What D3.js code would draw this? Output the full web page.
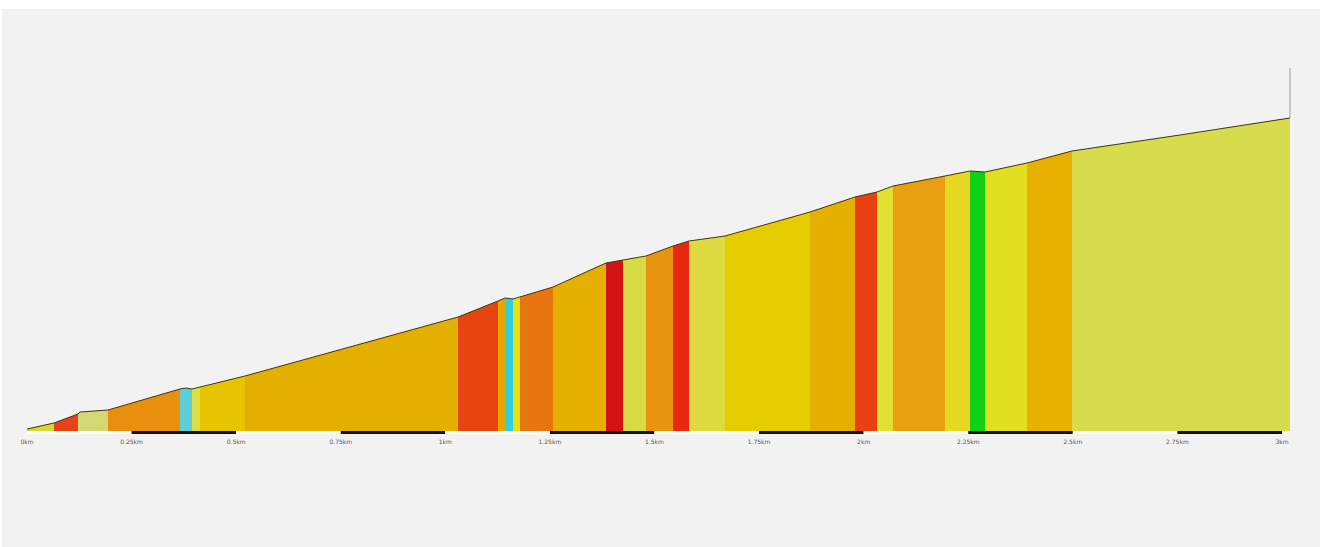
<!DOCTYPE html>
<html>
<head>
<meta charset="utf-8">
<script src="https://cdn.jsdelivr.net/npm/d3@7"></script>
<style>
  html, body { margin: 0; padding: 0; background: #ffffff; }
  svg { display: block; }
</style>
</head>
<body>
<svg id="chart" width="1320" height="547"></svg>
<script>
// profile: distance (km) and elevation (m above start baseline)
var distKm = [0, 0.0645, 0.1219, 0.1267, 0.1936, 0.3657, 0.3801, 0.3944, 0.5211, 1.0303, 1.1259, 1.1426,
              1.1618, 1.2574, 1.3841, 1.4247, 1.4797, 1.5443, 1.5825, 1.6685, 1.8717, 1.9793, 2.0319,
              2.0701, 2.1944, 2.2542, 2.2900, 2.3904, 2.4980, 2.7562, 3.0191];
var elevM = [2, 8, 17, 19, 21, 42, 43, 42, 55, 114, 130, 133,
             132, 144, 168, 171, 175, 185, 190, 195, 219, 234, 239,
             245, 255, 260, 259, 268, 280, 296, 313];

// slope-coloured stretches (start km, end km, colour)
var segStart = [0, 0.0645, 0.1219, 0.1936, 0.3657, 0.3944, 0.4136, 0.5211, 1.0303, 1.1259, 1.1426, 1.1618,
                1.1785, 1.2574, 1.3841, 1.4247, 1.4797, 1.5443, 1.5825, 1.6685, 1.8717, 1.9793, 2.0319,
                2.0701, 2.1944, 2.2542, 2.2900, 2.3904, 2.4980];
var segEnd = segStart.slice(1).concat([3.0191]);
var segColor = ["#d9d82c", "#e8421a", "#d3d872", "#e8900e", "#5ccfd8", "#dede40", "#e6c400", "#e4b000",
                "#e8440f", "#e6a800", "#30d0e0", "#e8e012", "#e87610", "#e6b000", "#d41414", "#d8dc44",
                "#e89410", "#e82810", "#dcdc40", "#e4cc00", "#e6b000", "#e84010", "#e0e030", "#e8a010",
                "#e6d820", "#12d012", "#e2de20", "#e8b000", "#d6dc4c"];

var tickKm = [0, 0.25, 0.5, 0.75, 1, 1.25, 1.5, 1.75, 2, 2.25, 2.5, 2.75, 3];
var tickLabels = ["0km", "0.25km", "0.5km", "0.75km", "1km", "1.25km", "1.5km", "1.75km", "2km",
                  "2.25km", "2.5km", "2.75km", "3km"];

var svg = d3.select("#chart");

svg.append("rect")
  .attr("x", 2).attr("y", 9)
  .attr("width", 1318).attr("height", 538)
  .attr("fill", "#f2f2f2");

var x = d3.scaleLinear().domain([0, 3]).range([27, 1282]);
var y = d3.scaleLinear().domain([0, 330]).range([431, 101]);

var pts = distKm.map(function (d, i) { return [d, elevM[i]]; });

var area = d3.area()
  .x(function (d) { return x(d[0]); })
  .y0(y(0))
  .y1(function (d) { return y(d[1]); });

svg.append("defs").append("clipPath")
  .attr("id", "profile-clip")
  .append("path")
  .attr("d", area(pts));

svg.append("g")
  .attr("clip-path", "url(#profile-clip)")
  .selectAll("rect")
  .data(segStart)
  .enter()
  .append("rect")
  .attr("x", function (d) { return x(d); })
  .attr("y", y(330))
  .attr("width", function (d, i) { return x(segEnd[i]) - x(d) + 0.5; })
  .attr("height", y(0) - y(330))
  .attr("fill", function (d, i) { return segColor[i]; });

// outline of the profile
svg.append("path")
  .datum(pts)
  .attr("fill", "none")
  .attr("stroke", "#3a3418")
  .attr("stroke-width", 1)
  .attr("d", d3.line()
    .x(function (d) { return x(d[0]); })
    .y(function (d) { return y(d[1]); }));

// marker at the end of the track
var last = pts[pts.length - 1];
svg.append("line")
  .attr("x1", x(last[0])).attr("x2", x(last[0]))
  .attr("y1", 68).attr("y2", y(last[1]))
  .attr("stroke", "#9a9a9a")
  .attr("stroke-width", 1);

// alternating scale bar
var bar = svg.append("g");
bar.selectAll("rect")
  .data(tickKm.slice(0, -1))
  .enter()
  .append("rect")
  .attr("x", function (d) { return x(d); })
  .attr("y", 431)
  .attr("width", x(0.25) - x(0))
  .attr("height", 3)
  .attr("fill", function (d, i) { return i % 2 ? "#111111" : "#ffffff"; });

svg.append("g")
  .selectAll("text")
  .data(tickKm)
  .enter()
  .append("text")
  .attr("x", function (d) { return x(d); })
  .attr("y", 444)
  .attr("text-anchor", "middle")
  .attr("font-family", "DejaVu Sans, sans-serif")
  .attr("font-size", 6)
  .attr("fill", "#555555")
  .text(function (d, i) { return tickLabels[i]; });
</script>
</body>
</html>
